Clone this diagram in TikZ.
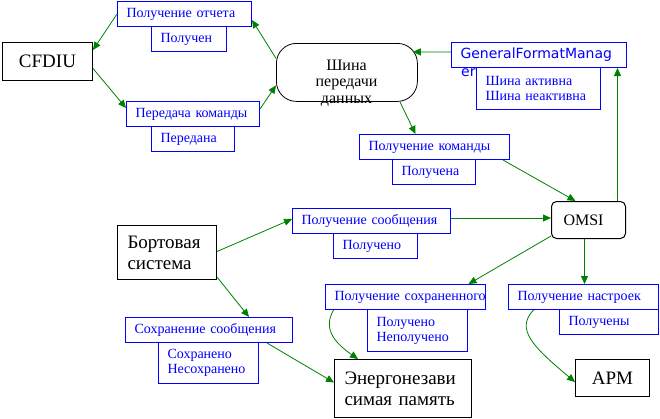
\documentclass[tikz,border=0pt]{standalone}
\usepackage{fontspec}
\setmainfont{Liberation Serif}
\newfontfamily\gfmfont{DejaVu Sans}
\usetikzlibrary{arrows.meta}
\definecolor{flowgreen}{RGB}{0,128,0}
\definecolor{msgblue}{RGB}{0,0,255}
\tikzset{
  msgbox/.style={
    draw=msgblue,
    fill=white,
    text=msgblue,
    line width=1pt,
    anchor=north west,
    inner xsep=9pt,
    inner ysep=2pt,
    align=left,
    font=\fontsize{14}{15}\selectfont,
  },
  bigbox/.style={
    draw,
    fill=white,
    line width=1pt,
    anchor=north west,
    inner xsep=10pt,
    align=left,
    font=\fontsize{19}{21}\selectfont,
  },
  busbox/.style={
    draw,
    line width=0.8pt,
    rounded corners=20pt,
    anchor=north west,
  },
  flow/.style={
    draw=flowgreen,
    line width=0.8pt,
    ->,
  }
}
\newcommand{\msg}[6]{%
  \pgfmathsetmacro{\msgwidth}{#4-18}%
  \node[msgbox, minimum width=#4pt, minimum height=#5pt, text width=\msgwidth pt] (#1) at (#2,#3) {#6};
}

\begin{document}
\begin{tikzpicture}[>={Triangle[length=8pt,width=7pt]}, x=1pt, y=-1pt]

\useasboundingbox (0,0) rectangle (660,418);

\node[bigbox, minimum width=90pt, minimum height=38pt] (cfdiu) at (2,42) {CFDIU};
\node[bigbox, minimum width=99pt, minimum height=54pt, text width=79pt] (board) at (117,225) {Бортовая\\система};
\node[bigbox, minimum width=137pt, minimum height=58pt, text width=117pt] (energy) at (334,359) {Энергонезави\\симая~память};
\node[bigbox, minimum width=74pt, minimum height=37pt] (arm) at (575,359) {АРМ};
\node[bigbox, rounded corners=5pt, font=\fontsize{16}{18}\selectfont, minimum width=74pt, minimum height=37pt, inner xsep=12pt, text width=50pt] (omsi) at (551,201) {OMSI};

\node[busbox, minimum width=141pt, minimum height=58pt] (bus) at (276,43) {};
\node[font=\fontsize{16}{16.5}\selectfont, align=center, inner sep=0pt] (bustext) at (346.5,83) {Шина\\передачи\\данных};

\node[msgbox, font=\gfmfont\fontsize{14}{15}\selectfont, minimum width=175pt, minimum height=25pt, text width=157pt] (gfm) at (451,42) {GeneralFormatManag};
\node[anchor=base west, inner sep=0pt, text=msgblue, font=\gfmfont\fontsize{14}{15}\selectfont] (gfmtail) at (461,76) {er};

\msg{repget}{117}{1}{134}{25}{Получение~отчета}
\msg{repok}{151}{26}{75}{25}{Получен}
\msg{cmdsend}{126}{101}{133}{25}{Передача~команды}
\msg{cmdsent}{151}{126}{83}{25}{Передана}
\msg{gfmstate}{476}{67}{124}{42}{Шина~активна\\Шина~неактивна}
\msg{cmdget}{359}{134}{150}{25}{Получение~команды}
\msg{cmdok}{392}{159}{83}{25}{Получена}
\msg{msgget}{292}{208}{158}{25}{Получение~сообщения}
\msg{msgok}{333}{233}{84}{25}{Получено}
\msg{savedget}{325}{284}{160}{25}{Получение~сохраненного}
\msg{savedok}{367}{309}{100}{42}{Получено\\Неполучено}
\msg{setget}{508}{284}{150}{25}{Получение~настроек}
\msg{setok}{559}{309}{99}{25}{Получены}
\msg{savemsg}{125}{317}{167}{25}{Сохранение~сообщения}
\msg{saveok}{158}{342}{100}{41}{Сохранено\\Несохранено}

\draw[flow] (repget.west) -- ([yshift=-8pt]cfdiu.north east);
\draw[flow] ([yshift=14pt]bus.west) -- ([yshift=-6pt]repget.east);
\draw[flow] ([yshift=-7pt]cfdiu.east) -- ([yshift=6pt]cmdsend.west);
\draw[flow] ([yshift=5pt]cmdsend.east) -- ([yshift=-13pt]bus.west);
\draw[flow] ([yshift=3pt]gfm.west) -- ([xshift=-5pt,yshift=20.5pt]bus.east);
\draw[flow] ([xshift=53pt]bus.south) -- ([xshift=-19pt]cmdget.north);
\draw[flow] ([xshift=-7pt]cmdget.south east) -- ([xshift=-13pt]omsi.north);
\draw[flow] ([yshift=3pt]msgget.east) -- ([yshift=2pt]omsi.west);
\draw[flow] ([xshift=29pt]omsi.north) -- ([xshift=78.5pt]gfm.south);
\draw[flow] ([yshift=3pt]omsi.south west) -- ([xshift=63pt]savedget.north);
\draw[flow] ([xshift=-4pt]omsi.south) -- ([xshift=1pt]setget.north);
\draw[flow] ([yshift=1pt]board.east) -- ([yshift=2pt]msgget.west);
\draw[flow] ([yshift=3pt]board.south east) -- ([xshift=40pt]savemsg.north);
\draw[flow] ([xshift=58pt]savemsg.south) -- ([yshift=6pt]energy.west);
\draw[flow] ([xshift=-72pt]savedget.south) .. controls +(-11,19) and +(-23,-16) .. ([xshift=-45pt]energy.north);
\draw[flow] ([xshift=-50pt]setget.south) .. controls +(-18,19) and +(-43,-36) .. ([yshift=-4pt]arm.west);

\end{tikzpicture}
\end{document}
